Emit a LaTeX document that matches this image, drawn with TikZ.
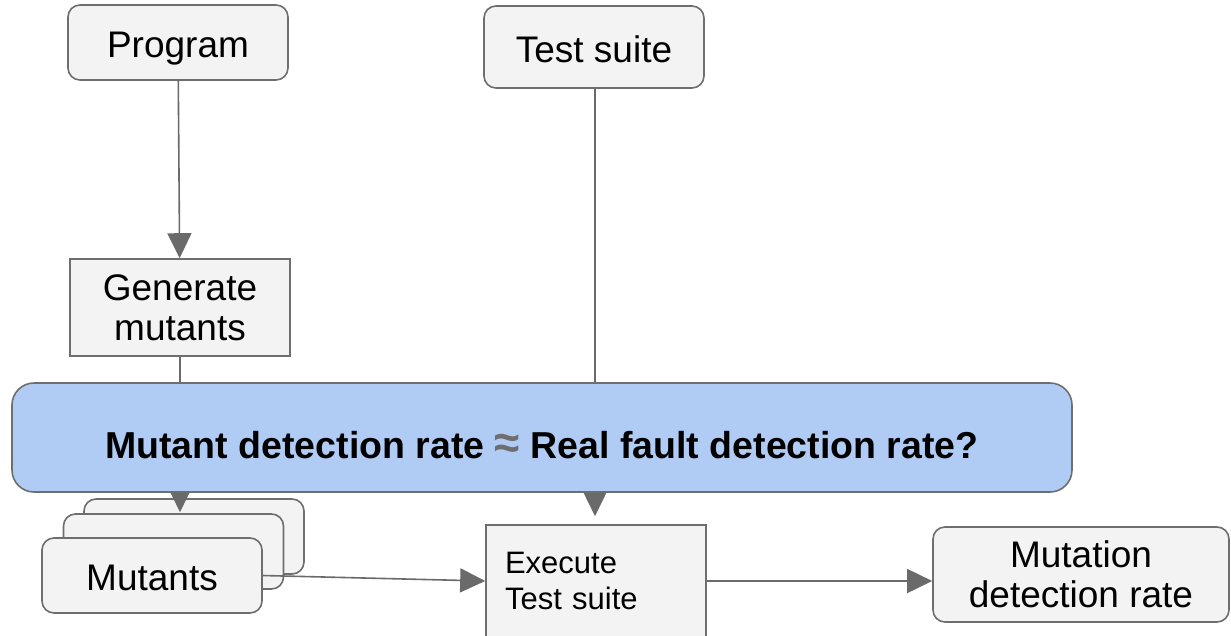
\documentclass[tikz,border=0pt]{standalone}
\usepackage{fontspec}
\setmainfont{Liberation Sans}
\usetikzlibrary{arrows.meta,calc}
\definecolor{boxfill}{HTML}{F3F3F3}
\definecolor{boxline}{HTML}{6E6E6E}
\definecolor{wire}{HTML}{6A6A6A}
\definecolor{qfill}{HTML}{B1CCF4}
\tikzset{
  base/.style={draw=boxline, fill=boxfill, line width=1.6pt, inner sep=0pt,
    font=\fontsize{37}{40}\selectfont, align=center},
  roundbox/.style={base, rounded corners=12pt},
  sharpbox/.style={base},
  oneline/.style={text height=30pt, text depth=0pt},
  conn/.style={draw=wire, line width=1.6pt,
    -{Triangle[length=25pt,width=24pt]}},
  qbox/.style={draw=boxline, fill=qfill, line width=1.6pt, rounded corners=22pt,
    minimum width=1060pt, minimum height=109pt, inner sep=0pt,
    font=\bfseries\fontsize{37.5}{40}\selectfont, text height=45pt, text depth=4pt}
}
\begin{document}
\begin{tikzpicture}[x=1pt,y=-1pt]
\useasboundingbox (0,0) rectangle (1231,635);

% inputs and the mutation step
\node[roundbox, oneline, minimum width=220pt, minimum height=75pt] (prog) at (178,42.5) {Program};
\node[roundbox, oneline, minimum width=220pt, minimum height=82pt] (suite) at (594,47) {Test suite};
\node[sharpbox, minimum width=220pt, minimum height=97pt] (gen) at (180,307.5) {Generate\\mutants};

% stack of mutant programs
\node[roundbox, minimum width=220pt, minimum height=75pt] (mutback) at (194,536.5) {};
\node[roundbox, minimum width=220pt, minimum height=75pt] (mutmid) at (173.5,551.5) {};

% connectors that run behind the question banner
\draw[conn] (prog) -- (gen);
\draw[conn] (gen.south) -- ($(gen.south |- mutmid.north)+(0,-1)$);
\coordinate (suitefoot) at ($(suite.south)+(1,0)$);

\node[roundbox, oneline, minimum width=220pt, minimum height=75pt] (mutfront) at (152,575.5) {Mutants};

% test execution and result
\node[sharpbox, minimum height=112pt, text width=182pt, inner xsep=19pt, align=left,
  font=\fontsize{31}{36}\selectfont] (exec) at (596,581) {Execute\\Test suite};
\node[roundbox, minimum width=296pt, minimum height=95pt] (rate) at (1081,574.5) {Mutation\\detection rate};

\draw[conn, shorten >=8pt] (suitefoot) -- (suitefoot |- exec.north);
\draw[conn] (mutfront.east) -- (exec.west);
\draw[conn] (exec.east) -- (exec.east -| rate.west);

% the research question banner on top
\node[qbox] (question) at (542,437.5)
  {Mutant detection rate {\color{boxline}\fontsize{46}{40}\selectfont ≈} Real fault detection rate?};
\end{tikzpicture}
\end{document}
